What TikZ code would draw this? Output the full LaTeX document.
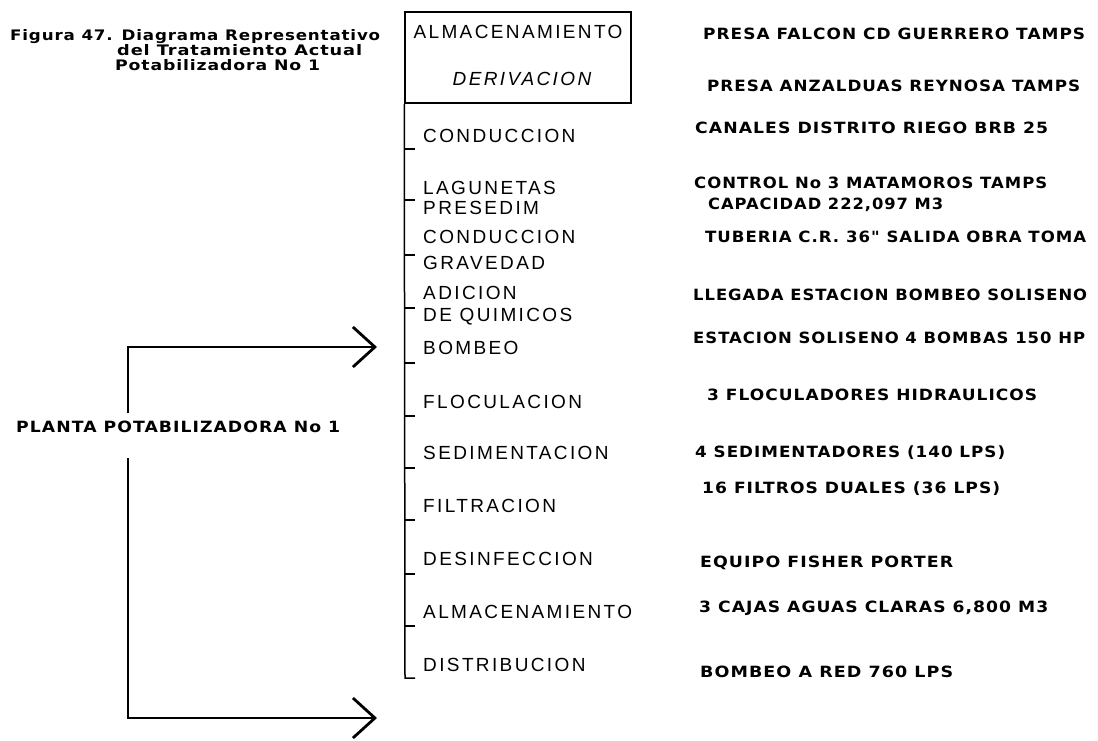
\documentclass[tikz,border=0pt]{standalone}
\usepackage{graphicx}
\usepackage{fontspec}
\setmainfont{Liberation Sans}
\newfontfamily\pasofont[LetterSpace=12.5]{Liberation Sans}
\newfontfamily\datofont[LetterSpace=6]{DejaVu Sans}
\newfontfamily\titfont[LetterSpace=5]{DejaVu Sans}
\usetikzlibrary{arrows.meta}
\newlength\anchoT
% ajusta el ancho del texto sin cambiar su altura
\newcommand\ajusta[2]{\settowidth\anchoT{#2}\pgfmathsetmacro\razon{#1/\the\anchoT}\scalebox{\razon}[1]{#2}}

\begin{document}
\begin{tikzpicture}[x=1pt,y=-1pt,
  paso/.style={anchor=base west,yshift=-6.5pt,inner sep=0pt,font=\pasofont\fontsize{19}{22}\selectfont},
  dato/.style={anchor=base west,yshift=-5.5pt,inner sep=0pt,font=\datofont\bfseries\fontsize{15.5}{18}\selectfont},
  tit/.style={anchor=base west,yshift=-5pt,inner sep=0pt,font=\titfont\bfseries\fontsize{14.5}{17}\selectfont},
  rama/.style={line width=1.5pt},
  flujo/.style={line width=2.8pt,-{Straight Barb[length=22pt,width=40pt]}}]
\useasboundingbox (0,0) rectangle (1098,740);
% titulo
\node[tit] (tit1) at (10,35) {\ajusta{370}{Figura 47. Diagrama Representativo}};
\node[tit] (tit2) at (117,50) {\ajusta{245}{del Tratamiento Actual}};
\node[tit] (tit3) at (115,65) {\ajusta{205}{Potabilizadora No 1}};
% fuente
\node[draw,line width=1.5pt,minimum width=226pt,minimum height=91pt,inner sep=0pt] (fuente) at (518,57.5) {};
\node[paso,anchor=base] (alm) at (518,32) {ALMACENAMIENTO};
\node[paso,anchor=base,font=\pasofont\itshape\fontsize{19}{22}\selectfont] (deriv) at (522,79) {DERIVACION};
% linea de pasos
\coordinate (pie) at (405,678);
\draw[rama] (fuente.south west) -- (pie) -- ++(10,0);
\foreach \y in {149,200,255,308,363,416,468,520,574,626}
  \draw[rama] (405,\y) -- ++(10,0);
\foreach \y/\t [count=\i] in {136/CONDUCCION, 188/LAGUNETAS, 208/PRESEDIM, 237/CONDUCCION, 263/GRAVEDAD,
    293/ADICION, 315/DE QUIMICOS, 348/BOMBEO, 402/FLOCULACION, 453/SEDIMENTACION, 506/FILTRACION,
    559/DESINFECCION, 612/ALMACENAMIENTO, 665/DISTRIBUCION}
  \node[paso] (paso\i) at (423,\y) {\t};
% datos
\foreach \y/\x/\w/\t [count=\i] in {34/703/382/PRESA FALCON CD GUERRERO TAMPS, 86/707/373/PRESA ANZALDUAS REYNOSA TAMPS,
    128/695/353/CANALES DISTRITO RIEGO BRB 25, 183/694/353/CONTROL No 3 MATAMOROS TAMPS,
    204/708/235/{CAPACIDAD 222,097 M3}, 237/705/381/TUBERIA C.R. 36" SALIDA OBRA TOMA,
    295/693/394/LLEGADA ESTACION BOMBEO SOLISENO, 338/693/392/ESTACION SOLISENO 4 BOMBAS 150 HP,
    395/707/330/3 FLOCULADORES HIDRAULICOS, 452/695/310/4 SEDIMENTADORES (140 LPS),
    488/702/298/16 FILTROS DUALES (36 LPS), 562/700/253/EQUIPO FISHER PORTER,
    607/699/349/{3 CAJAS AGUAS CLARAS 6,800 M3}, 672/700/253/BOMBEO A RED 760 LPS}
  \node[dato] (dato\i) at (\x,\y) {\ajusta{\w}{\t}};
% planta
\node[dato] (planta) at (16,427) {\ajusta{324}{PLANTA POTABILIZADORA No 1}};
\coordinate (arriba) at (128,413);
\coordinate (abajo) at (128,458);
\coordinate (haciaBombeo) at (377,347);
\coordinate (haciaRed) at (377,718);
\draw[flujo] (arriba) |- (haciaBombeo);
\draw[flujo] (abajo) |- (haciaRed);
\end{tikzpicture}
\end{document}
